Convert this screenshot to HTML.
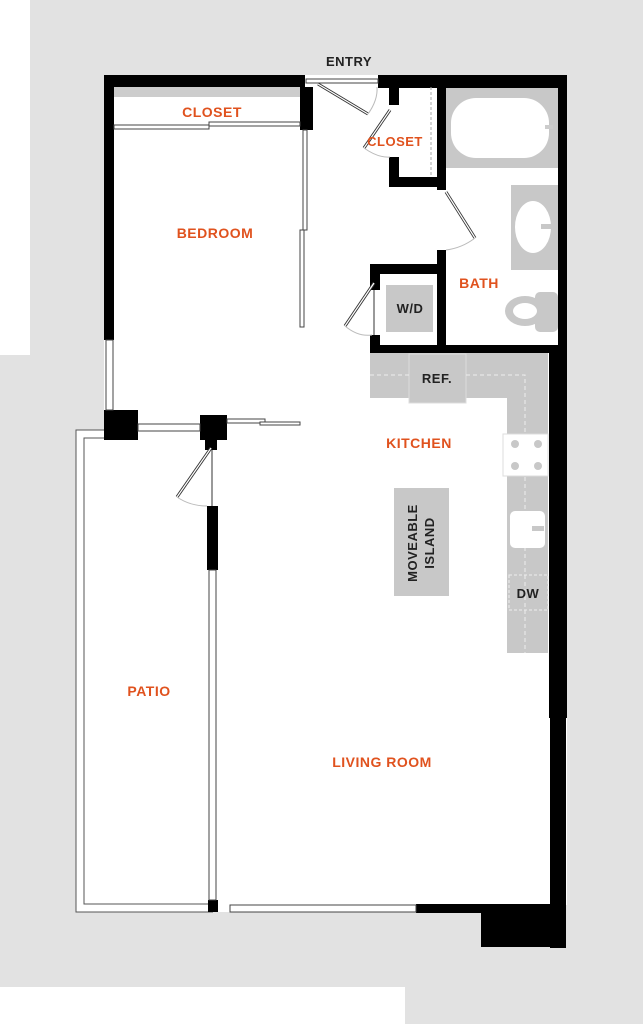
<!DOCTYPE html>
<html><head><style>
html,body{margin:0;padding:0;background:#fff;}
svg{display:block;}
text{font-family:"Liberation Sans",sans-serif;font-weight:bold;letter-spacing:0.5px;}
.o{fill:#e0521e;font-size:14px;}
.k{fill:#222;font-size:13px;}
</style></head><body>
<svg width="643" height="1024" viewBox="0 0 643 1024" xmlns="http://www.w3.org/2000/svg">
<rect x="0" y="0" width="643" height="1024" fill="#e2e2e2"/>
<rect x="0" y="0" width="30" height="355" fill="#fff"/>
<rect x="0" y="987" width="405" height="37" fill="#fff"/>
<polygon points="104,75 567,75 567,905 416,905 416,912 76,912 76,430 104,430" fill="#fff"/>
<polyline points="213,430 76,430 76,912 213,912" fill="none" stroke="#555" stroke-width="1"/>
<polyline points="104,438 84,438 84,904 210,904" fill="none" stroke="#555" stroke-width="1"/>
<g fill="#000">
<rect x="104" y="75" width="201" height="12"/>
<rect x="378" y="75" width="189" height="13"/>
<rect x="104" y="75" width="10" height="265"/>
<rect x="558" y="75" width="9" height="280"/>
<rect x="549" y="345" width="18" height="373"/>
<rect x="550" y="718" width="16" height="230"/>
<rect x="416" y="904" width="150" height="9"/>
<rect x="481" y="904" width="85" height="43"/>
<rect x="300" y="87" width="13" height="43"/>
<rect x="389" y="87" width="10" height="18"/>
<rect x="389" y="157" width="10" height="30"/>
<rect x="389" y="177" width="56" height="10"/>
<rect x="437" y="87" width="9" height="103"/>
<rect x="437" y="250" width="9" height="100"/>
<rect x="370" y="264" width="76" height="10"/>
<rect x="370" y="264" width="10" height="26"/>
<rect x="370" y="335" width="10" height="18"/>
<rect x="370" y="345" width="197" height="8"/>
<rect x="104" y="410" width="34" height="30"/>
<rect x="200" y="415" width="27" height="25"/>
<rect x="205" y="440" width="12" height="10"/>
<rect x="207" y="506" width="11" height="64"/>
<rect x="208" y="900" width="10" height="12"/>
</g>
<g fill="#fff" stroke="#444" stroke-width="1">
<rect x="106" y="340" width="7" height="70"/>
<rect x="138" y="424" width="62" height="7"/>
<rect x="209" y="570" width="7" height="330"/>
<rect x="230" y="905" width="186" height="7"/>
<rect x="306" y="79" width="72" height="4"/>
<rect x="303" y="130" width="4" height="100"/>
<rect x="300" y="230" width="4" height="97"/>
<rect x="114" y="125" width="95" height="4"/>
<rect x="209" y="122" width="91" height="4"/>
<rect x="227" y="419" width="38" height="4"/>
<rect x="260" y="422" width="40" height="3"/>
</g>
<rect x="114" y="87" width="186" height="10" fill="#ccc"/>
<line x1="431" y1="87" x2="431" y2="177" stroke="#aaa" stroke-dasharray="3,2"/>
<g stroke="#333" stroke-width="3" fill="none">
<line x1="318" y1="84" x2="368" y2="114"/>
<line x1="390" y1="110" x2="364" y2="148"/>
<line x1="446" y1="192" x2="475" y2="238"/>
<line x1="374" y1="283" x2="345" y2="326"/>
<line x1="211" y1="448" x2="177" y2="497"/>
</g>
<g stroke="#fff" stroke-width="1.2" fill="none">
<line x1="318" y1="84" x2="368" y2="114"/>
<line x1="390" y1="110" x2="364" y2="148"/>
<line x1="446" y1="192" x2="475" y2="238"/>
<line x1="374" y1="283" x2="345" y2="326"/>
<line x1="211" y1="448" x2="177" y2="497"/>
</g>
<g stroke="#bbb" stroke-width="1" fill="none">
<path d="M368,114 Q378,100 377,87"/>
<path d="M364,148 Q378,158 390,157"/>
<path d="M475,238 Q462,248 446,250"/>
<path d="M345,326 Q358,337 372,335"/>
<path d="M177,497 Q190,506 207,506"/>
</g>
<line x1="374" y1="290" x2="374" y2="335" stroke="#333"/>
<line x1="212" y1="450" x2="212" y2="506" stroke="#333"/>
<rect x="446" y="88" width="112" height="80" fill="#c8c8c8"/>
<rect x="451" y="98" width="98" height="60" rx="25" fill="#fff"/>
<rect x="545" y="125" width="8" height="4" fill="#ccc"/>
<rect x="511" y="185" width="47" height="85" fill="#c8c8c8"/>
<ellipse cx="533" cy="227" rx="18" ry="26" fill="#fff"/>
<rect x="541" y="224" width="11" height="5" fill="#c8c8c8"/>
<rect x="535" y="292" width="23" height="40" rx="5" fill="#c8c8c8"/>
<ellipse cx="525" cy="311" rx="20" ry="15" fill="#c8c8c8"/>
<ellipse cx="525" cy="311" rx="12" ry="8" fill="#fff"/>
<rect x="386" y="285" width="47" height="47" fill="#c8c8c8"/>
<path d="M370,353 L548,353 L548,653 L507,653 L507,398 L370,398 Z" fill="#c8c8c8"/>
<rect x="409" y="354" width="57" height="49" fill="#c8c8c8" stroke="#ddd"/>
<path d="M370,375 L409,375 M466,375 L525,375 L525,653" stroke="#eee" stroke-dasharray="4,3" fill="none"/>
<rect x="503" y="434" width="45" height="42" fill="#fff" stroke="#ddd"/>
<g fill="#c8c8c8"><circle cx="515" cy="444" r="4"/><circle cx="538" cy="444" r="4"/><circle cx="515" cy="466" r="4"/><circle cx="538" cy="466" r="4"/></g>
<rect x="510" y="511" width="35" height="37" rx="5" fill="#fff"/>
<rect x="532" y="526" width="12" height="5" fill="#c8c8c8"/>
<rect x="509" y="575" width="39" height="35" fill="none" stroke="#eee" stroke-dasharray="3,2"/>
<rect x="394" y="488" width="55" height="108" fill="#c8c8c8"/>
<text class="k" x="349" y="66" text-anchor="middle">ENTRY</text>
<text class="o" x="212" y="117" text-anchor="middle">CLOSET</text>
<text class="o" x="395" y="146" text-anchor="middle" style="font-size:13px">CLOSET</text>
<text class="o" x="215" y="238" text-anchor="middle">BEDROOM</text>
<text class="o" x="479" y="288" text-anchor="middle">BATH</text>
<text class="k" x="410" y="313" text-anchor="middle">W/D</text>
<text class="k" x="437" y="383" text-anchor="middle">REF.</text>
<text class="o" x="419" y="448" text-anchor="middle">KITCHEN</text>
<text class="k" x="417" y="543" text-anchor="middle" transform="rotate(-90 417 543)">MOVEABLE</text>
<text class="k" x="434" y="543" text-anchor="middle" transform="rotate(-90 434 543)">ISLAND</text>
<text class="k" x="528" y="598" text-anchor="middle">DW</text>
<text class="o" x="149" y="696" text-anchor="middle">PATIO</text>
<text class="o" x="382" y="767" text-anchor="middle">LIVING ROOM</text>
</svg>
</body></html>
